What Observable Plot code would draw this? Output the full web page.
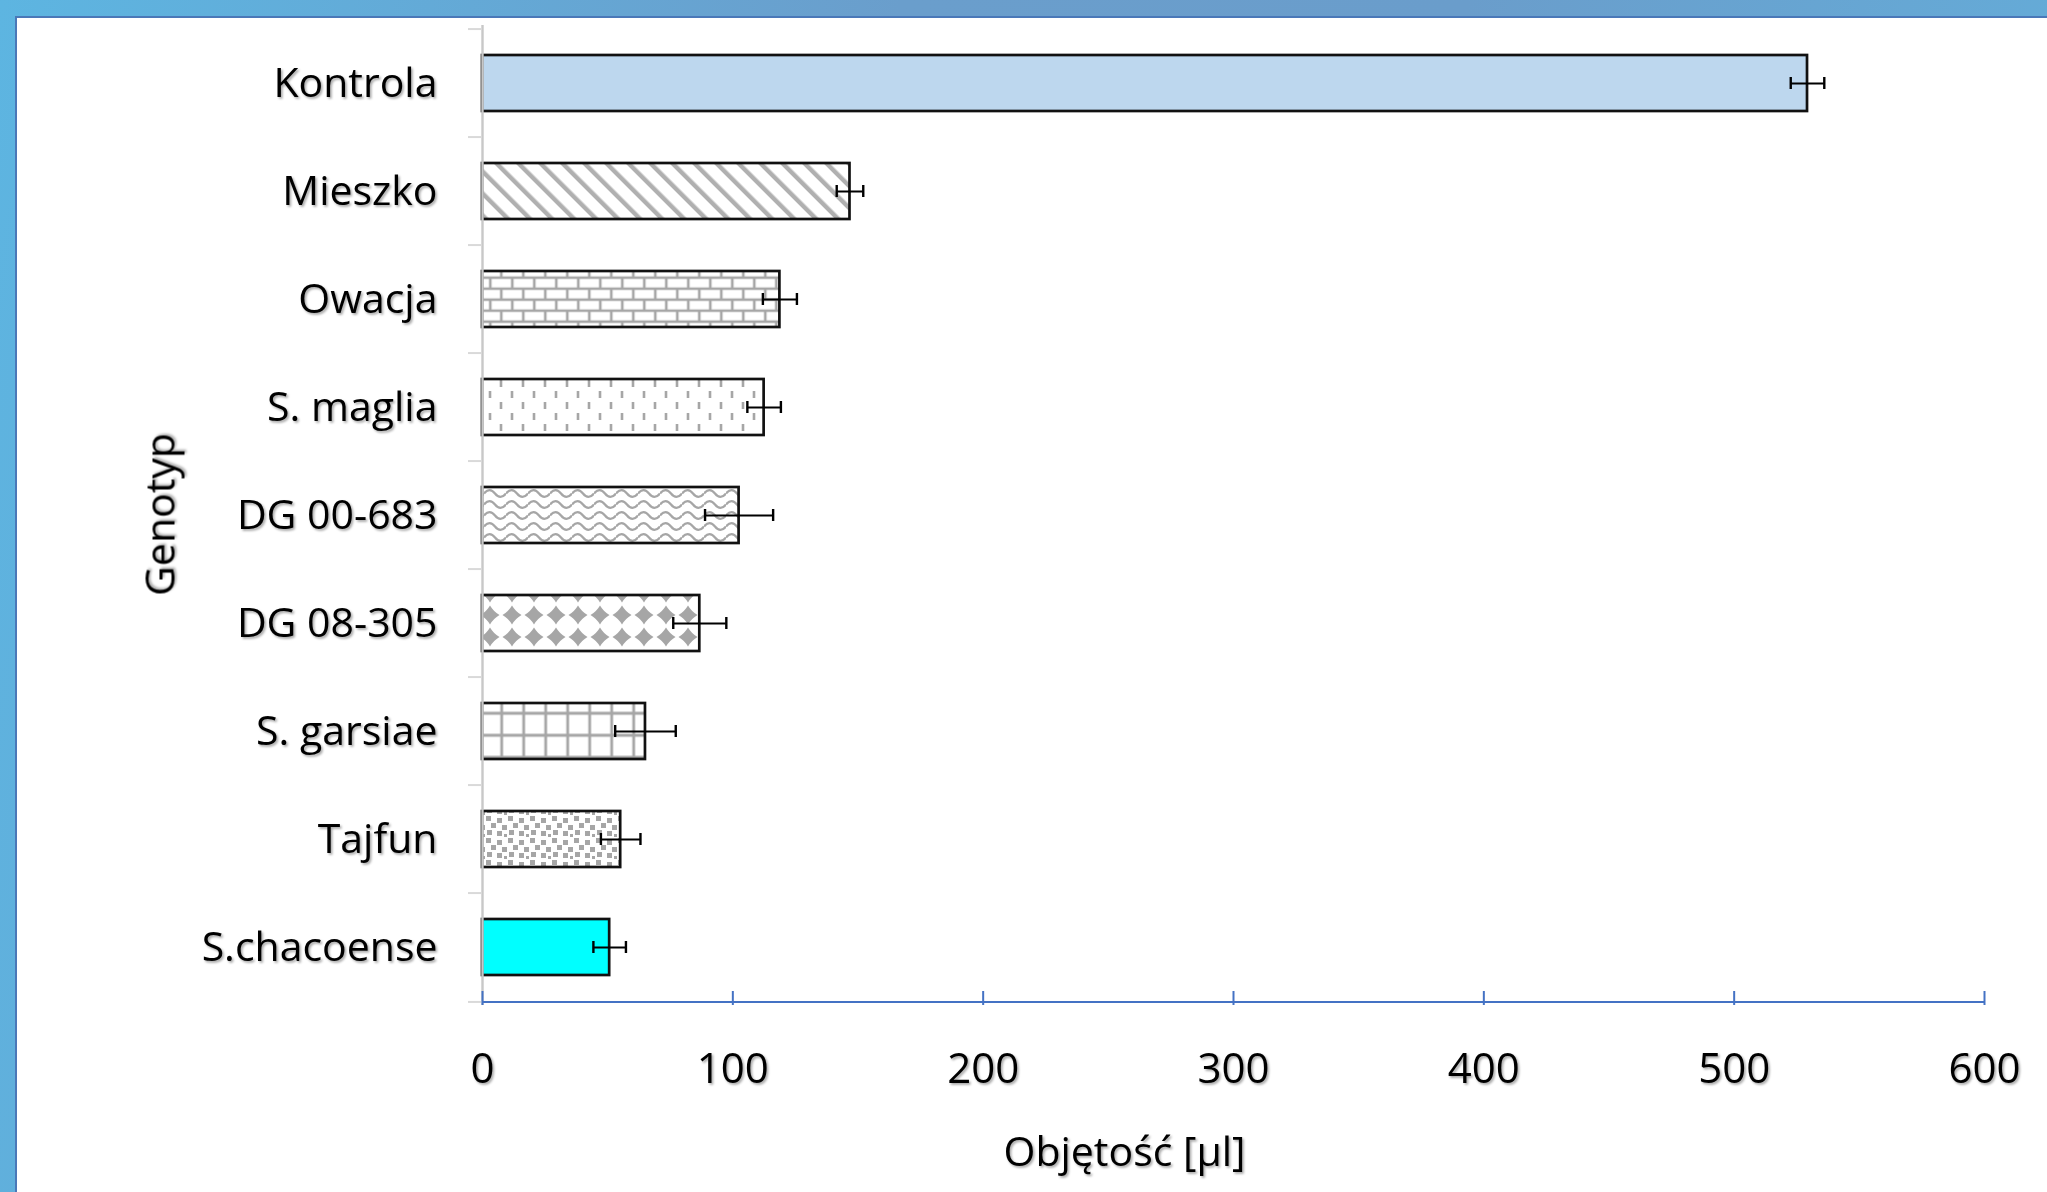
<!DOCTYPE html>
<html><head><meta charset="utf-8">
<script src="https://cdn.jsdelivr.net/npm/d3@7"></script>
<script src="https://cdn.jsdelivr.net/npm/@observablehq/plot@0.6"></script>
<style>
html,body{margin:0;padding:0;width:2047px;height:1192px;overflow:hidden;}
body{position:relative;background:linear-gradient(100deg,#5db5e1 0%,#6a9ecc 40%,#6a9dcb 65%,#63afdb 100%);font-family:"Open Sans",sans-serif;}
#panel{position:absolute;left:15px;top:16px;right:0;bottom:0;background:#fff;border-left:2px solid #4a78b8;border-top:2px solid #4a78b8;}
#chart{position:absolute;left:0;top:0;}
svg text{filter:url(#txtshadow);}
</style></head>
<body><div id="panel"></div><div id="chart"></div>
<script>
// ---- data ----
const genotypes = ["Kontrola","Mieszko","Owacja","S. maglia","DG 00-683","DG 08-305","S. garsiae","Tajfun","S.chacoense"];
const volumes = [529.3,146.8,118.8,112.5,102.5,86.8,65.1,55.2,50.8];
const errors = [6.7,5.3,6.8,6.7,13.6,10.6,12.1,7.9,6.5];
const fills = ["#bdd7ee","url(#p-diag)","url(#p-brick)","url(#p-dash)","url(#p-wave)","url(#p-diamond)","url(#p-grid)","url(#p-confetti)","#00ffff"];
const xTicks = [0,100,200,300,400,500,600];
const xLabel = "Objętość [µl]";
const yLabel = "Genotyp";

const data = genotypes.map((g,i)=>({genotyp:g, v:volumes[i], e:errors[i], fill:fills[i]}));
const last = genotypes[genotypes.length-1];
const H = 1192, W = 2047, mT = 25, mB = 187;
const step = (H - mT - mB) / genotypes.length;

const chart = Plot.plot({
  width: W, height: H,
  marginLeft: 482, marginRight: 63, marginTop: mT, marginBottom: mB,
  style: {background: "transparent", fontFamily: "'Open Sans', sans-serif", color: "#000"},
  x: {domain: [0,600], ticks: xTicks},
  y: {domain: genotypes, paddingInner: 0.48, paddingOuter: 0.24, label: null},
  color: {type: "identity"},
  marks: [
    Plot.barX(data, {x: "v", y: "genotyp", fill: "fill", stroke: "#111", strokeWidth: 2.7}),
    Plot.ruleX([0], {stroke: "#c8c8c8", strokeWidth: 2.4}),
    Plot.axisY({tickSize: 14, tickFormat: () => "", dy: -step/2, stroke: "#d9d9d9", strokeWidth: 2, label: null}),
    Plot.axisY({ticks: [last], tickSize: 14, tickFormat: () => "", dy: step/2, stroke: "#d9d9d9", strokeWidth: 2, label: null}),
    Plot.axisY({tickSize: 0, tickPadding: 45, fontSize: 41, label: null}),
    Plot.ruleY([last], {dy: step/2, stroke: "#4472c4", strokeWidth: 2}),
    Plot.axisX({ticks: xTicks, tickSize: -14, tickFormat: () => "", stroke: "#4472c4", strokeWidth: 2, label: null}),
    Plot.axisX({ticks: xTicks, tickSize: 0, tickPadding: 48, fontSize: 42, label: null}),
    Plot.ruleY(data, {y: "genotyp", x1: d => d.v - d.e, x2: d => d.v + d.e, stroke: "#000", strokeWidth: 2}),
    Plot.tickX(data, {y: "genotyp", x: d => d.v - d.e, stroke: "#000", strokeWidth: 2.4, insetTop: 22, insetBottom: 22}),
    Plot.tickX(data, {y: "genotyp", x: d => d.v + d.e, stroke: "#000", strokeWidth: 2.4, insetTop: 22, insetBottom: 22}),
    Plot.text([xLabel], {frameAnchor: "bottom", textAnchor: "middle", lineAnchor: "middle", dx: -109, dy: 147, fontSize: 41}),
    Plot.text([yLabel], {frameAnchor: "left", textAnchor: "middle", lineAnchor: "middle", rotate: -90, dx: -321, dy: -1, fontSize: 41})
  ]
});

// ---- pattern definitions ----
const svg = d3.select(chart);
const defs = svg.insert("defs", ":first-child");
const G = "#a6a6a6";
const f = defs.append("filter").attr("id","txtshadow").attr("x","-10%").attr("y","-20%").attr("width","130%").attr("height","150%");
f.append("feDropShadow").attr("dx",1.6).attr("dy",1.8).attr("stdDeviation",1.1).attr("flood-color","#000").attr("flood-opacity",0.35);

function pat(id, w, h, x, y, extra) {
  const p = defs.append("pattern").attr("id", id).attr("patternUnits","userSpaceOnUse")
    .attr("width", w).attr("height", h).attr("x", x).attr("y", y);
  p.append("rect").attr("width", w).attr("height", h).attr("fill", "#fff");
  if (extra) p.attr("patternTransform", extra);
  return p;
}
// wide downward diagonal
let p = pat("p-diag", 15.56, 15.56, 0, 0, "rotate(-45)");
p.append("rect").attr("x", 0).attr("y", 0).attr("width", 4.4).attr("height", 15.56).attr("fill", "#b0b0b0");
// horizontal brick
p = pat("p-brick", 22, 22, 490.3, 277.7);
p.append("path").attr("d","M0,0H22M0,11H22M0,0V11M11,11V22M22,0V11").attr("stroke",G).attr("stroke-width",2.6).attr("fill","none");
p.append("path").attr("d","M0,22H22").attr("stroke",G).attr("stroke-width",2.6);
// dashed vertical
p = pat("p-dash", 22, 22, 501, 380);
p.append("path").attr("d","M0,0V7M22,0V7M11,11V18").attr("stroke",G).attr("stroke-width",2.6).attr("fill","none");
// wave
p = pat("p-wave", 22, 11, 484, 488);
p.append("path").attr("d","M0,5.5C3.5,1 7.5,1 11,5.5S18.5,10 22,5.5").attr("stroke",G).attr("stroke-width",2.2).attr("fill","none");
// solid diamond
p = pat("p-diamond", 22, 22, 479, 604);
p.append("path").attr("d","M11,1.5Q14.5,7.5 20.5,11Q14.5,14.5 11,20.5Q7.5,14.5 1.5,11Q7.5,7.5 11,1.5Z").attr("fill",G);
// large grid
p = pat("p-grid", 22, 22, 501.7, 713.3);
p.append("path").attr("d","M0,0V22M22,0V22M0,0H22M0,22H22").attr("stroke",G).attr("stroke-width",2.8).attr("fill","none");
// large confetti
p = pat("p-confetti", 22, 22, 485, 815);
[[1,1],[12,3],[6,8],[17,10],[2,15],[12,16],[19,19]].forEach(([x,y]) =>
  p.append("rect").attr("x",x).attr("y",y).attr("width",5).attr("height",5).attr("fill",G));

document.getElementById("chart").appendChild(chart);
</script>
</body></html>
